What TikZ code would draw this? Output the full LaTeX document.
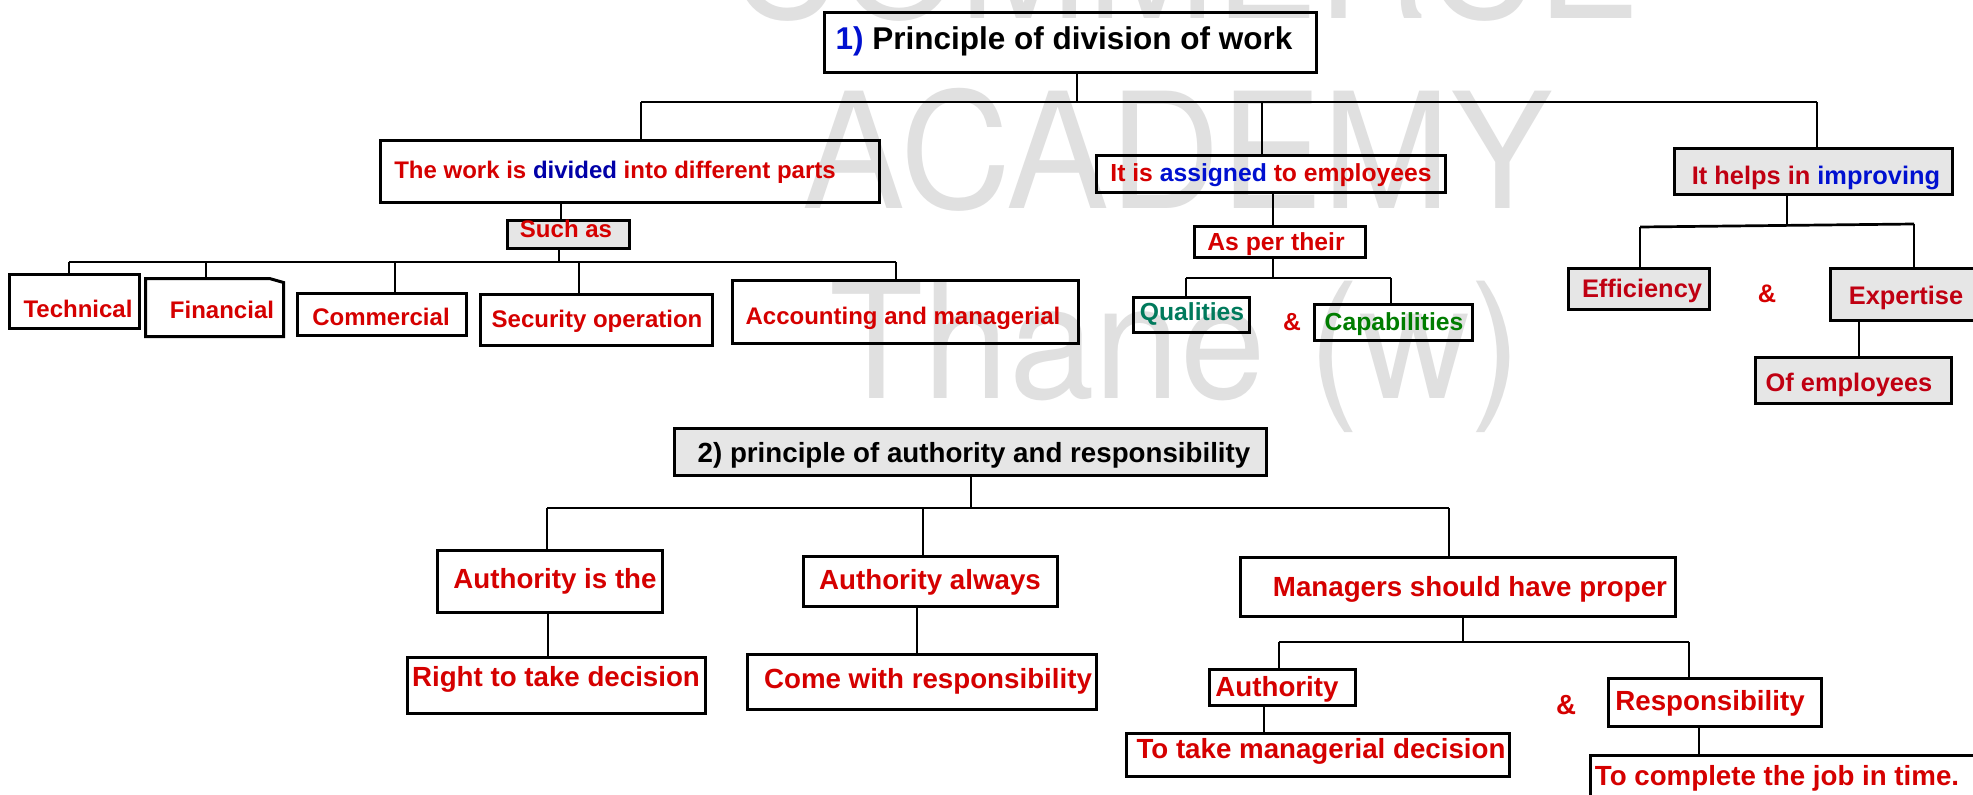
\documentclass[tikz,border=0pt]{standalone}
\usepackage{fontspec}
\setmainfont{Liberation Sans}
\newfontfamily\wmfont{TeX Gyre Heros}
\definecolor{rd}{HTML}{D50000}
\definecolor{drd}{HTML}{C00012}
\definecolor{bl}{HTML}{0010D0}
\definecolor{nv}{HTML}{0000A8}
\definecolor{tl}{HTML}{007A5C}
\definecolor{gn}{HTML}{007D00}
\definecolor{gy}{HTML}{E6E6E6}
\definecolor{wm}{HTML}{E0E0E0}
\newcommand\DBox[6][]{\node[box,#1,minimum width={#4-#2},minimum height={#5-#3}] (#6) at ({(#2+#4)/2},{(#3+#5)/2}) {};}
\begin{document}
\begin{tikzpicture}[x=1pt,y=-1pt,
  box/.style={draw=black,line width=3pt,inner sep=0pt,rectangle},
  gbox/.style={fill=gy},
  nofr/.style={draw=none},
  con/.style={draw=black,line width=2.7pt},
  txt/.style={inner sep=0pt,text depth=0pt,anchor=center},
  sA/.style={txt,text height=17.2pt,font=\fontsize{24}{28}\selectfont\bfseries},
  sB/.style={txt,text height=17.7pt,font=\fontsize{24.7}{29}\selectfont\bfseries},
  sC/.style={txt,text height=18.2pt,font=\fontsize{25.4}{30}\selectfont\bfseries},
  sD/.style={txt,text height=19.8pt,font=\fontsize{27.7}{32}\selectfont\bfseries},
  sE/.style={txt,text height=22.6pt,font=\fontsize{31.5}{36}\selectfont\bfseries},
  wmt/.style={inner sep=0pt,anchor=base,text=wm,font=\wmfont\fontsize{161}{161}\selectfont}
]
\useasboundingbox (0,0) rectangle (1973,795);
\clip (0,0) rectangle (1973,795);
\fill[white] (0,0) rectangle (1973,795);

% watermark
\node[wmt] (wm1) at (1185,18) {\scalebox{0.955}[1]{COMMERCE}};
\node[wmt] (wm2) at (1178,208) {\scalebox{0.955}[1]{ACADEMY}};
\node[wmt] (wm3) at (1176,398) {\scalebox{0.955}[1]{Thane (w)}};

% ---------- 1) principle of division of work ----------
\DBox{824}{12}{1316}{72}{title}
\node[sE] (title-t) at (1064,38.5) {\textcolor{bl}{1)} Principle of division of work};

\DBox{380}{140}{879}{202}{work}
\node[sA,text=rd] (work-t) at (615,170) {The work is \textcolor{nv}{divided} into different parts};

\DBox[gbox]{507}{220}{629}{248}{such}
\node[sA,text=rd] (such-t) at (566,229) {Such as};

\DBox{9}{274}{139}{328}{tech}
\node[sA,text=rd] (tech-t) at (78,309) {Technical};

\DBox[nofr]{147}{280}{282}{335}{fin}
\draw[line width=3pt,line join=miter] (fin.south west) -- (fin.north west) -- ([xshift=-14pt]fin.north east) -- ([yshift=-4pt]fin.north east) -- (fin.south east) -- cycle;
\node[sA,text=rd] (fin-t) at (222,310) {Financial};

\DBox{297}{293}{466}{335}{comm}
\node[sA,text=rd] (comm-t) at (381,317) {Commercial};

\DBox{480}{294}{712}{345}{sec}
\node[sA,text=rd] (sec-t) at (597,319) {Security operation};

\DBox{732}{280}{1078}{343}{acc}
\node[sA,text=rd] (acc-t) at (903,316) {Accounting and managerial};

\DBox{1096}{155}{1445}{192}{assign}
\node[sB,text=rd] (assign-t) at (1271,173) {It is \textcolor{bl}{assigned} to employees};

\DBox{1194}{226}{1365}{257}{asper}
\node[sB,text=rd] (asper-t) at (1276,242) {As per their};

\DBox{1133}{297}{1249}{332}{qual}
\node[sB,text=tl] (qual-t) at (1192,312) {Qualities};

\node[sB,text=rd] (amp1) at (1292,322) {\&};

\DBox{1314}{304}{1472}{340}{capa}
\node[sB,text=gn] (capa-t) at (1394,322) {Capabilities};

\DBox[gbox]{1674}{148}{1952}{194}{helps}
\node[sC,text=drd] (helps-t) at (1816,175) {It helps in \textcolor{bl}{improving}};

\DBox[gbox]{1568}{268}{1709}{309}{eff}
\node[sC,text=drd] (eff-t) at (1642,288) {Efficiency};

\node[sC,text=rd] (amp2) at (1767,293) {\&};

\DBox[gbox]{1830}{268}{1992}{320}{exp}
\node[sC,text=drd] (exp-t) at (1906,295) {Expertise};

\DBox[gbox]{1755}{357}{1951}{403}{ofe}
\node[sC,text=drd] (ofe-t) at (1849,382) {Of employees};

% connectors, upper tree
\coordinate (t0) at (1077,102);
\coordinate (tL) at (641,102);
\coordinate (tM) at (1262,102);
\coordinate (tR) at (1817,102);
\draw[con] (title.south -| t0) -- (t0);
\draw[con] (tL) -- (tR);
\draw[con] (tL) -- (work.north -| tL);
\draw[con] (tM) -- (assign.north -| tM);
\draw[con] (tR) -- (helps.north -| tR);

\coordinate (xa) at (561,0);
\draw[con] (work.south -| xa) -- (such.north -| xa);
\coordinate (s0) at (559,262);
\coordinate (sL) at (69,262);
\coordinate (s2) at (206,262);
\coordinate (s3) at (395,262);
\coordinate (s4) at (579,262);
\coordinate (sR) at (896,262);
\draw[con] (such.south -| s0) -- (s0);
\draw[con] (sL) -- (sR);
\draw[con] (sL) -- (tech.north -| sL);
\draw[con] (s2) -- (fin.north -| s2);
\draw[con] (s3) -- (comm.north -| s3);
\draw[con] (s4) -- (sec.north -| s4);
\draw[con] (sR) -- (acc.north -| sR);

\coordinate (a1) at (1273,0);
\draw[con] (assign.south -| a1) -- (asper.north -| a1);
\coordinate (q0) at (1273,278);
\coordinate (qL) at (1186,278);
\coordinate (qR) at (1391,278);
\draw[con] (asper.south -| q0) -- (q0);
\draw[con] (qL) -- (qR);
\draw[con] (qL) -- (qual.north -| qL);
\draw[con] (qR) -- (capa.north -| qR);

\coordinate (h0) at (1787,225.5);
\coordinate (hL) at (1640,227);
\coordinate (hR) at (1914,224);
\draw[con] (helps.south -| h0) -- (h0);
\draw[con] (hL) -- (hR);
\draw[con] (hL) -- (eff.north -| hL);
\draw[con] (hR) -- (exp.north -| hR);
\coordinate (e1) at (1859,0);
\draw[con] (exp.south -| e1) -- (ofe.north -| e1);

% ---------- 2) principle of authority and responsibility ----------
\DBox[gbox]{674}{428}{1266}{475}{p2}
\node[sD,text=black] (p2-t) at (974,453) {2) principle of authority and responsibility};

\DBox{437}{550}{662}{612}{auth}
\node[sD,text=rd] (auth-t) at (555,579) {Authority is the};

\DBox{407}{657}{705}{713}{right}
\node[sD,text=rd] (right-t) at (556,677) {Right to take decision};

\DBox{803}{556}{1057}{606}{always}
\node[sD,text=rd] (always-t) at (930,580) {Authority always};

\DBox{747}{654}{1096}{709}{come}
\node[sD,text=rd] (come-t) at (928,679) {Come with responsibility};

\DBox{1240}{557}{1675}{616}{mgr}
\node[sD,text=rd] (mgr-t) at (1470,587) {Managers should have proper};

\DBox{1209}{669}{1355}{705}{auth2}
\node[sD,text=rd] (auth2-t) at (1277,687) {Authority};

\DBox{1126}{733}{1509}{776}{mdec}
\node[sD,text=rd] (mdec-t) at (1321,749) {To take managerial decision};

\node[sD,text=rd] (amp3) at (1566,705) {\&};

\DBox{1608}{678}{1821}{726}{resp}
\node[sD,text=rd] (resp-t) at (1710,701) {Responsibility};

\DBox{1590}{755}{1992}{815}{job}
\node[sD,text=rd] (job-t) at (1777,776) {To complete the job in time.};

% connectors, lower tree
\coordinate (b0) at (971,508);
\coordinate (bL) at (547,508);
\coordinate (bM) at (923,508);
\coordinate (bR) at (1449,508);
\draw[con] (p2.south -| b0) -- (b0);
\draw[con] (bL) -- (bR);
\draw[con] (bL) -- (auth.north -| bL);
\draw[con] (bM) -- (always.north -| bM);
\draw[con] (bR) -- (mgr.north -| bR);
\coordinate (c1) at (548,0);
\draw[con] (auth.south -| c1) -- (right.north -| c1);
\coordinate (c2) at (917,0);
\draw[con] (always.south -| c2) -- (come.north -| c2);

\coordinate (m0) at (1463,642);
\coordinate (mL) at (1279,642);
\coordinate (mR) at (1689,642);
\draw[con] (mgr.south -| m0) -- (m0);
\draw[con] (mL) -- (mR);
\draw[con] (mL) -- (auth2.north -| mL);
\draw[con] (mR) -- (resp.north -| mR);
\coordinate (c3) at (1264,0);
\draw[con] (auth2.south -| c3) -- (mdec.north -| c3);
\coordinate (c4) at (1699,0);
\draw[con] (resp.south -| c4) -- (job.north -| c4);
\end{tikzpicture}
\end{document}
